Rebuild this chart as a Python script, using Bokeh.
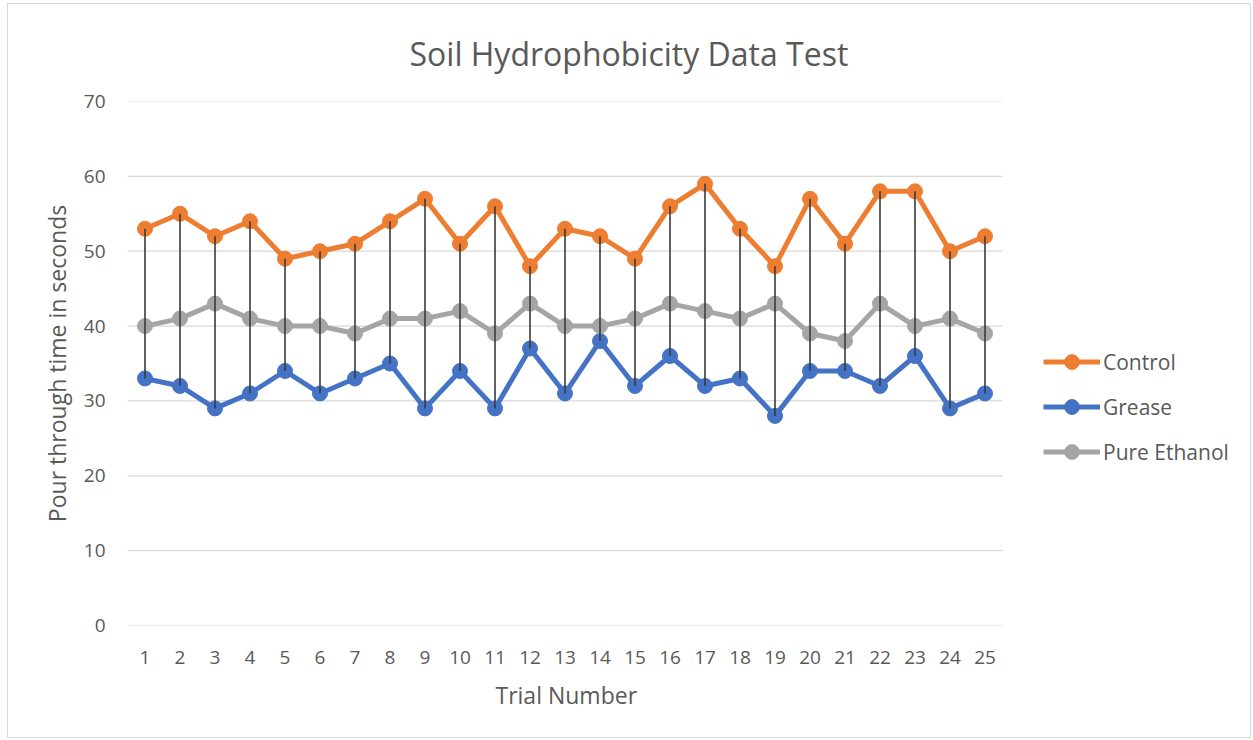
import numpy as np
from bokeh.plotting import figure
from bokeh.models import Legend, LegendItem, FixedTicker, Range1d, Title
from bokeh.embed import file_html
from bokeh.resources import INLINE

trials = list(range(1, 26))
control = [53, 55, 52, 54, 49, 50, 51, 54, 57, 51, 56, 48, 53, 52, 49, 56, 59, 53, 48, 57, 51, 58, 58, 50, 52]
grease = [33, 32, 29, 31, 34, 31, 33, 35, 29, 34, 29, 37, 31, 38, 32, 36, 32, 33, 28, 34, 34, 32, 36, 29, 31]
ethanol = [40, 41, 43, 41, 40, 40, 39, 41, 41, 42, 39, 43, 40, 40, 41, 43, 42, 41, 43, 39, 38, 43, 40, 41, 39]
y_ticks = [0, 10, 20, 30, 40, 50, 60, 70]

FONT = "Open Sans"
TXT = "#595959"

# category slot = 35px; frame extends to the right edge so the legend is not clipped
x_start = trials[0] - 0.5
x_end_cat = trials[-1] + 0.5
frame_w = 1244 - 119
p = figure(width=1244, height=735, output_backend="svg", toolbar_location=None,
           x_range=Range1d(x_start, x_start + frame_w / 35.0), y_range=Range1d(0, 70),
           min_border_left=119, min_border_right=0, min_border_top=97, min_border_bottom=114)
p.styles = {"border": "1px solid #D9D9D9", "margin-left": "7px", "margin-top": "3px"}
p.outline_line_color = None

p.title.text = "Soil Hydrophobicity Data Test"
p.title.text_font = FONT
p.title.text_font_size = "32px"
p.title.text_font_style = "normal"
p.title.text_color = TXT
p.title.align = "left"
p.title.offset = 282
p.title.vertical_align = "top"
p.title.standoff = 50

p.xgrid.grid_line_color = None
p.ygrid.grid_line_color = None
p.segment(x0=x_start, x1=x_end_cat, y0=y_ticks, y1=y_ticks, line_color="#D9D9D9", line_width=1.2)

p.yaxis.ticker = FixedTicker(ticks=y_ticks)
p.xaxis.ticker = FixedTicker(ticks=trials)

for ax in (p.xaxis[0], p.yaxis[0]):
    ax.axis_line_color = None
    ax.major_tick_line_color = None
    ax.minor_tick_line_color = None
    ax.major_tick_out = 0
    ax.major_label_text_font = FONT
    ax.major_label_text_font_size = "19px"
    ax.major_label_text_color = TXT
    ax.axis_label_text_font = FONT
    ax.axis_label_text_font_size = "23px"
    ax.axis_label_text_font_style = "normal"
    ax.axis_label_text_color = TXT

p.yaxis.axis_label = "Pour through time in seconds"
p.xaxis.major_label_standoff = 25
p.yaxis.major_label_standoff = 22
p.yaxis.axis_label_standoff = 8

# x-axis title, centred under the category span (frame is wider because of the legend)
xtitle = Title(text="Trial Number", align="left", offset=368, vertical_align="top", standoff=24,
               text_font=FONT, text_font_size="23px", text_font_style="normal", text_color=TXT)
p.add_layout(xtitle, "below")

series = [("Control", control, "#ED7D31"), ("Grease", grease, "#4472C4"), ("Pure Ethanol", ethanol, "#A5A5A5")]
items = []
for name, vals, col in series:
    l = p.line(trials, vals, line_color=col, line_width=5, line_join="round")
    s = p.scatter(trials, vals, size=15, fill_color=col, line_color=col)
    items.append(LegendItem(label=name, renderers=[l, s]))

hi = np.max([control, grease, ethanol], axis=0)
lo = np.min([control, grease, ethanol], axis=0)
p.segment(x0=trials, y0=lo, x1=trials, y1=hi, line_color="#3A3A3A", line_width=1.6)

legend = Legend(items=items, location=(916, 155), padding=0, margin=0, spacing=8,
                glyph_width=57, glyph_height=37, label_standoff=3,
                label_text_font=FONT, label_text_font_size="21px", label_text_color=TXT,
                border_line_color=None, background_fill_alpha=0)
p.add_layout(legend, "center")

open("out.html", "w").write(file_html(p, INLINE))
